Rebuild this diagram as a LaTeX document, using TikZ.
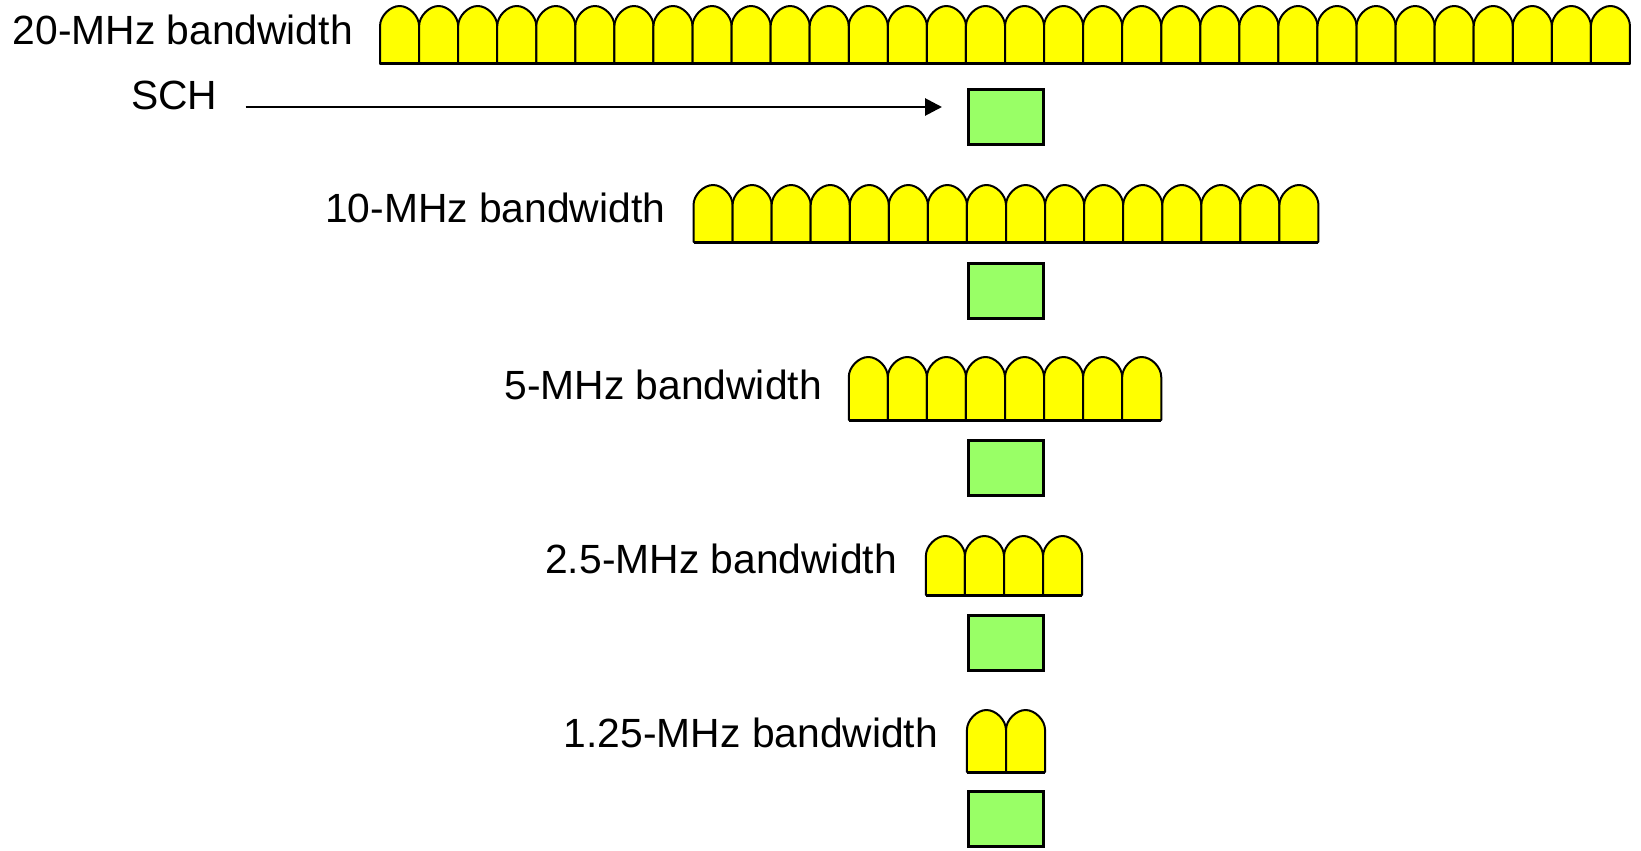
\documentclass[tikz,border=0pt]{standalone}
\usepackage{fontspec}
\setmainfont{Liberation Sans}
\usetikzlibrary{arrows.meta}
\definecolor{pulseyellow}{RGB}{255,255,0}
\definecolor{schgreen}{RGB}{153,255,102}
\newcommand\pulserow[4]{% #1 n, #2 top, #3 base, #4 center x
  \pgfmathsetmacro\rowleft{#4-#1*19.53}
  \foreach \i in {1,...,#1}{
    \pgfmathsetmacro\xx{\rowleft+(\i-1)*39.06}
    \pgfmathsetmacro\xm{\xx+19.53}
    \pgfmathsetmacro\xr{\xx+39.06}
    \draw[pulse] (\xx,#3) -- (\xx,#2+20)
      .. controls (\xx,#2+10) and (\xm-9.5,#2) .. (\xm,#2)
      .. controls (\xm+9.5,#2) and (\xr,#2+10) .. (\xr,#2+20)
      -- (\xr,#3) -- cycle;
  }
  \draw[rowbase] (\rowleft,#3) -- (\rowleft+#1*39.06,#3);
}
\begin{document}
\begin{tikzpicture}[x=1pt,y=-1pt,
  lbl/.style={inner sep=0pt, font=\fontsize{40.8}{48}\selectfont},
  schbox/.style={draw, line width=3pt, fill=schgreen, minimum width=75pt, minimum height=55pt, inner sep=0pt},
  pulse/.style={draw, line width=2pt, fill=pulseyellow, line join=round},
  rowbase/.style={line width=3pt},
  arr/.style={line width=2.8pt, -{Triangle[length=17pt,width=17pt]}}]
\useasboundingbox (0,0) rectangle (1641,851);

% pulse rows
\pulserow{32}{6}{64}{1005}
\pulserow{16}{185}{242}{1006}
\pulserow{8}{357}{420}{1005}
\pulserow{4}{536}{595}{1004}
\pulserow{2}{710}{772}{1006}

% SCH boxes
\node[schbox] (s20) at (1006,117) {};
\node[schbox] (s10) at (1006,290.5) {};
\node[schbox] (s5) at (1006,467.5) {};
\node[schbox] (s25) at (1006,643) {};
\node[schbox] (s125) at (1006,819) {};

% labels
\node[lbl, anchor=base east] (l20) at (353,45) {20-MHz bandwidth};
\node[lbl, anchor=base east] (l10) at (665.5,222) {10-MHz bandwidth};
\node[lbl, anchor=base east] (l5) at (822,399) {5-MHz bandwidth};
\node[lbl, anchor=base east] (l25) at (897,573) {2.5-MHz bandwidth};
\node[lbl, anchor=base east] (l125) at (938.3,747) {1.25-MHz bandwidth};
\node[lbl, anchor=base west] (sch) at (131,110) {SCH};

% arrow
\coordinate (tip) at (942,107);
\draw[arr] ([xshift=28pt,yshift=3pt]sch.base east) -- (tip);
\end{tikzpicture}
\end{document}
